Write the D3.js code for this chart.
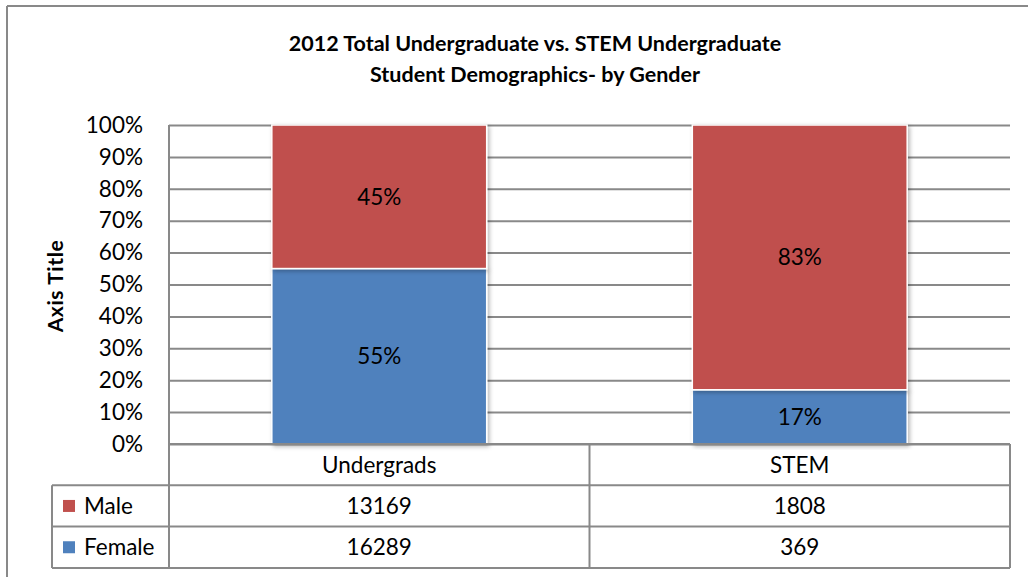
<!DOCTYPE html>
<html>
<head>
<meta charset="utf-8">
<script src="https://cdn.jsdelivr.net/npm/d3@7"></script>
<style>
  html, body { margin: 0; padding: 0; background: #fff; }
  svg { display: block; font-family: Lato, "Open Sans", sans-serif; }
</style>
</head>
<body>
<svg id="chart" width="1028" height="577"></svg>
<script>
// Categories and series
const categories = ["Undergrads", "STEM"];
const seriesNames = ["Male", "Female"];
const maleCounts = [13169, 1808];
const femaleCounts = [16289, 369];
// Share of each bar, in percent, as labelled
const femalePct = [55, 17];
const malePct = [45, 83];
const yTicks = [0, 10, 20, 30, 40, 50, 60, 70, 80, 90, 100];
const titleLines = ["2012 Total Undergraduate vs. STEM Undergraduate", "Student Demographics- by Gender"];
const yAxisTitle = "Axis Title";

const colors = { Male: "#C0504D", Female: "#4F81BD" };
const gridColor = "#898989";
const textSize = 22.5;

const svg = d3.select("#chart");
const W = 1028, H = 577;

// plot area
const plot = { left: 169, right: 1010, top: 125, bottom: 444 };
const tableLeft = 52;
const rowH = 41.3;

const x = d3.scaleBand()
  .domain(categories)
  .range([plot.left, plot.right])
  .paddingInner(0.489)
  .paddingOuter(0.2445);

const y = d3.scaleLinear().domain([0, 100]).range([plot.bottom, plot.top]);

// drop shadow for bars
const defs = svg.append("defs");
const f = defs.append("filter").attr("id", "shadow")
  .attr("x", "-5%").attr("y", "-5%").attr("width", "115%").attr("height", "115%");
f.append("feDropShadow").attr("dx", 2).attr("dy", 2).attr("stdDeviation", 2)
  .attr("flood-color", "#000").attr("flood-opacity", 0.28);

// outer chart frame (top and left edges visible)
svg.append("line").attr("x1", 7).attr("x2", W).attr("y1", 6).attr("y2", 6)
  .attr("stroke", gridColor).attr("stroke-width", 2);
svg.append("line").attr("x1", 7).attr("x2", 7).attr("y1", 6).attr("y2", H)
  .attr("stroke", gridColor).attr("stroke-width", 2);

// title
const title = svg.append("text")
  .attr("text-anchor", "middle")
  .attr("font-weight", "bold")
  .attr("font-size", 21.5)
  .attr("fill", "#000");
titleLines.forEach((t, i) => {
  title.append("tspan").attr("x", 535).attr("y", 51 + i * 31).text(t);
});

// gridlines and y labels
const yAxis = d3.axisLeft(y)
  .tickValues(yTicks)
  .tickSize(-(plot.right - plot.left))
  .tickPadding(26)
  .tickFormat(d => d + "%");
const gy = svg.append("g").attr("transform", `translate(${plot.left},0)`).call(yAxis);
gy.select(".domain").remove();
gy.selectAll(".tick line").attr("stroke", gridColor).attr("stroke-width", 2);
gy.selectAll(".tick text")
  .attr("font-family", "Lato, sans-serif")
  .attr("font-size", textSize)
  .attr("fill", "#000");

// y axis title
svg.append("text")
  .attr("transform", `translate(${63},${286}) rotate(-90)`)
  .attr("text-anchor", "middle")
  .attr("font-weight", "bold")
  .attr("font-size", 21)
  .attr("letter-spacing", 0.6)
  .attr("fill", "#000")
  .text(yAxisTitle);

// stacked bars
const rows = categories.map((c, i) => ({ cat: c, Female: femalePct[i], Male: malePct[i] }));
const stack = d3.stack().keys(["Female", "Male"])(rows);
const layers = svg.append("g").selectAll("g").data(stack).join("g")
  .attr("fill", d => colors[d.key]);
layers.selectAll("rect").data(d => d).join("rect")
  .attr("x", d => x(d.data.cat))
  .attr("width", x.bandwidth())
  .attr("y", d => y(d[1]))
  .attr("height", d => y(d[0]) - y(d[1]))
  .attr("stroke", "#fff")
  .attr("stroke-width", 1.5)
  .attr("filter", "url(#shadow)");

// data labels
layers.selectAll("text").data(d => d).join("text")
  .attr("x", d => x(d.data.cat) + x.bandwidth() / 2)
  .attr("y", d => y((d[0] + d[1]) / 2))
  .attr("dy", "0.36em")
  .attr("text-anchor", "middle")
  .attr("font-size", textSize)
  .attr("fill", "#000")
  .text(d => (d[1] - d[0]) + "%");

// data table under the plot
const tbl = svg.append("g");
const lineStyle = sel => sel.attr("stroke", gridColor).attr("stroke-width", 2);
const step = x.step();
const bounds = [plot.left].concat(categories.map((c, i) => plot.left + (i + 1) * step));
const tableBottom = plot.bottom + rowH * 3;

// horizontal rules
tbl.append("line").attr("x1", plot.left).attr("x2", plot.right)
  .attr("y1", plot.bottom).attr("y2", plot.bottom).call(lineStyle);
[1, 2, 3].forEach(k => {
  tbl.append("line").attr("x1", tableLeft).attr("x2", plot.right)
    .attr("y1", plot.bottom + k * rowH).attr("y2", plot.bottom + k * rowH).call(lineStyle);
});
// vertical rules
tbl.append("line").attr("x1", plot.left).attr("x2", plot.left)
  .attr("y1", plot.top).attr("y2", tableBottom).call(lineStyle);
bounds.slice(1).forEach(bx => {
  tbl.append("line").attr("x1", bx).attr("x2", bx)
    .attr("y1", plot.bottom).attr("y2", tableBottom).call(lineStyle);
});
tbl.append("line").attr("x1", tableLeft).attr("x2", tableLeft)
  .attr("y1", plot.bottom + rowH).attr("y2", tableBottom).call(lineStyle);

// category header cells
categories.forEach((c, i) => {
  tbl.append("text")
    .attr("x", plot.left + (i + 0.5) * step)
    .attr("y", plot.bottom + rowH / 2)
    .attr("dy", "0.36em")
    .attr("text-anchor", "middle")
    .attr("font-size", textSize)
    .text(c);
});

// value rows with legend keys
const tableRows = [
  { name: "Male", values: maleCounts },
  { name: "Female", values: femaleCounts }
];
tableRows.forEach((r, ri) => {
  const cy = plot.bottom + rowH * (ri + 1.5);
  tbl.append("rect")
    .attr("x", 63).attr("y", cy - 6).attr("width", 12).attr("height", 12)
    .attr("fill", colors[r.name]);
  tbl.append("text")
    .attr("x", 84).attr("y", cy).attr("dy", "0.36em")
    .attr("font-size", textSize)
    .text(r.name);
  r.values.forEach((v, i) => {
    tbl.append("text")
      .attr("x", plot.left + (i + 0.5) * step)
      .attr("y", cy).attr("dy", "0.36em")
      .attr("text-anchor", "middle")
      .attr("font-size", textSize)
      .text(v);
  });
});
</script>
</body>
</html>
